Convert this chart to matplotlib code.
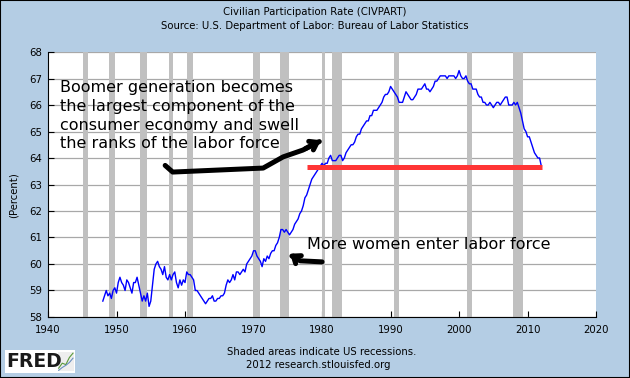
import numpy as np
import matplotlib.pyplot as plt
from matplotlib.patches import Rectangle

# Civilian participation rate (CIVPART), quarterly, 1948Q1 .. 2012Q1
civpart = [
    58.6, 58.8, 59.0, 58.8,   # 1948
    58.9, 58.7, 59.0, 59.1,   # 1949
    58.9, 59.3, 59.5, 59.3,   # 1950
    59.2, 59.0, 59.4, 59.3,   # 1951
    59.1, 58.9, 59.3, 59.3,   # 1952
    59.5, 59.2, 58.9, 58.6,   # 1953
    58.8, 58.6, 58.9, 58.4,   # 1954
    58.6, 59.2, 59.8, 60.0,   # 1955
    60.1, 59.9, 59.8, 59.6,   # 1956
    59.9, 59.5, 59.4, 59.6,   # 1957
    59.4, 59.6, 59.7, 59.3,   # 1958
    59.1, 59.4, 59.2, 59.4,   # 1959
    59.3, 59.7, 59.6, 59.6,   # 1960
    59.5, 59.4, 59.0, 59.0,   # 1961
    58.9, 58.8, 58.7, 58.6,   # 1962
    58.5, 58.6, 58.7, 58.7,   # 1963
    58.8, 58.6, 58.6, 58.7,   # 1964
    58.7, 58.8, 58.8, 58.9,   # 1965
    59.2, 59.4, 59.3, 59.4,   # 1966
    59.6, 59.4, 59.7, 59.7,   # 1967
    59.6, 59.7, 59.8, 59.7,   # 1968
    60.0, 60.1, 60.2, 60.3,   # 1969
    60.5, 60.5, 60.3, 60.2,   # 1970
    60.1, 59.9, 60.2, 60.1,   # 1971
    60.3, 60.2, 60.4, 60.5,   # 1972
    60.5, 60.7, 60.8, 61.0,   # 1973
    61.3, 61.3, 61.2, 61.3,   # 1974
    61.2, 61.1, 61.2, 61.3,   # 1975
    61.5, 61.6, 61.7, 61.9,   # 1976
    62.0, 62.2, 62.5, 62.6,   # 1977
    62.8, 63.0, 63.2, 63.3,   # 1978
    63.4, 63.5, 63.6, 63.7,   # 1979
    63.8, 63.7, 63.8, 63.8,   # 1980
    64.0, 64.1, 63.9, 63.9,   # 1981
    63.9, 64.0, 64.1, 64.1,   # 1982
    63.9, 64.0, 64.2, 64.3,   # 1983
    64.4, 64.5, 64.5, 64.6,   # 1984
    64.8, 64.9, 64.9, 65.1,   # 1985
    65.2, 65.3, 65.4, 65.4,   # 1986
    65.6, 65.6, 65.8, 65.8,   # 1987
    65.8, 65.9, 66.0, 66.1,   # 1988
    66.3, 66.4, 66.4, 66.5,   # 1989
    66.7, 66.6, 66.5, 66.4,   # 1990
    66.3, 66.1, 66.1, 66.1,   # 1991
    66.3, 66.5, 66.4, 66.3,   # 1992
    66.2, 66.2, 66.3, 66.4,   # 1993
    66.6, 66.6, 66.6, 66.7,   # 1994
    66.8, 66.6, 66.6, 66.5,   # 1995
    66.6, 66.7, 66.9, 66.9,   # 1996
    67.0, 67.1, 67.1, 67.1,   # 1997
    67.1, 67.0, 67.1, 67.1,   # 1998
    67.1, 67.1, 67.0, 67.1,   # 1999
    67.3, 67.1, 67.0, 67.0,   # 2000
    67.1, 66.9, 66.8, 66.8,   # 2001
    66.6, 66.6, 66.6, 66.4,   # 2002
    66.3, 66.3, 66.1, 66.1,   # 2003
    66.0, 66.0, 66.1, 66.0,   # 2004
    65.9, 66.0, 66.1, 66.1,   # 2005
    66.0, 66.1, 66.2, 66.3,   # 2006
    66.3, 66.0, 66.0, 66.0,   # 2007
    66.1, 66.0, 66.1, 65.9,   # 2008
    65.7, 65.4, 65.1, 65.0,   # 2009
    64.8, 64.8, 64.6, 64.4,   # 2010
    64.2, 64.1, 64.0, 64.0,   # 2011
    63.7,                     # 2012
]
start_year = 1948

# NBER recessions (decimal years)
rec_start = [1945.1, 1948.9, 1953.5, 1957.6, 1960.3, 1969.9, 1973.9, 1980.0, 1981.5, 1990.5, 2001.2, 2007.9]
rec_end = [1945.8, 1949.8, 1954.4, 1958.3, 1961.1, 1970.9, 1975.2, 1980.5, 1982.9, 1991.2, 2001.9, 2009.4]

# red "today's level" line added by the author
level_now = 63.65
level_from = 1977.8
level_to = 2012.1

yticks = list(range(58, 69))
xticks = list(range(1940, 2021, 10))

# hand drawn arrows (data coords)
arrow1_x = [1957.1, 1958.2, 1971.4, 1974.3, 1977.2, 1979.6]
arrow1_y = [63.72, 63.47, 63.62, 64.04, 64.30, 64.62]
arrow2_x = [1980.0, 1976.8, 1975.6]
arrow2_y = [60.08, 60.12, 60.30]

bg = '#b4cde4'
years = start_year + np.arange(len(civpart)) * 0.25

fig = plt.figure(figsize=(6.3, 3.78), dpi=100, facecolor=bg)
ax = fig.add_axes([0.0762, 0.1614, 0.870, 0.701])
ax.set_facecolor('white')

for s, e in zip(rec_start, rec_end):
    ax.axvspan(s, e, color='#c0c0c0', lw=0, zorder=1)

ax.set_yticks(yticks)
ax.set_xticks(xticks)
ax.yaxis.grid(True, color='#a8a8a8', lw=0.9, zorder=0)
ax.set_axisbelow(True)
ax.plot(years, civpart, color='#0000ff', lw=1.0, zorder=3)
ax.plot([level_from, level_to], [level_now, level_now], color='#ff3535', lw=3.6,
        solid_capstyle='butt', zorder=4)

ax.set_xlim(1940, 2020)
ax.set_ylim(58, 68)
for sp in ['top', 'right']:
    ax.spines[sp].set_visible(False)
ax.tick_params(direction='in', length=4, labelsize=7.3, colors='black')
ax.tick_params(axis='x', pad=5.5)
ax.tick_params(axis='y', pad=4)

# annotations
ax.text(0.022, 0.893, 'Boomer generation becomes\nthe largest component of the\n'
        'consumer economy and swell\nthe ranks of the labor force',
        transform=ax.transAxes, fontsize=11.5, va='top', ha='left', linespacing=1.3, zorder=5)
ax.text(0.473, 0.275, 'More women enter labor force', transform=ax.transAxes,
        fontsize=11.5, va='center', ha='left', zorder=5)

ax.plot(arrow1_x, arrow1_y, color='black', lw=3.6, solid_capstyle='round',
        solid_joinstyle='round', zorder=6)
ax.annotate('', xy=(1980.2, 64.72), xytext=(arrow1_x[-2], arrow1_y[-2]),
            arrowprops=dict(arrowstyle='->,head_length=0.5,head_width=0.35', lw=3.6,
                            color='black'), zorder=6)
ax.plot(arrow2_x, arrow2_y, color='black', lw=3.6, solid_capstyle='round',
        solid_joinstyle='round', zorder=6)
ax.annotate('', xy=(1975.0, 60.45), xytext=(arrow2_x[1], arrow2_y[1]),
            arrowprops=dict(arrowstyle='->,head_length=0.45,head_width=0.35', lw=3.6,
                            color='black'), zorder=6)

# titles and footer
fig.text(0.5, 0.967, 'Civilian Participation Rate (CIVPART)', ha='center', va='center', fontsize=7.3)
fig.text(0.5, 0.930, 'Source: U.S. Department of Labor: Bureau of Labor Statistics',
         ha='center', va='center', fontsize=7.3)
fig.text(0.021, 0.485, '(Percent)', rotation=90, ha='center', va='center', fontsize=7.3)
fig.text(0.51, 0.068, 'Shaded areas indicate US recessions.', ha='center', va='center', fontsize=7.3)
fig.text(0.505, 0.034, '2012 research.stlouisfed.org', ha='center', va='center', fontsize=7.3)

# FRED logo
fig.patches.append(Rectangle((0.008, 0.012), 0.111, 0.062, transform=fig.transFigure,
                             facecolor='white', edgecolor='none', zorder=-1))
fig.text(0.010, 0.043, 'FRED', fontsize=13.5, fontweight='bold', ha='left', va='center',
         color='#1a1a1a', zorder=3)
icon = fig.add_axes([0.092, 0.018, 0.025, 0.05])
icon.set_facecolor('#eeeeee')
icon.plot([0, 1, 2, 3, 4], [0.5, 1.2, 1.0, 2.0, 2.6], color='#5a9a3a', lw=0.8)
icon.plot([0, 1, 2, 3, 4], [0.2, 0.6, 0.9, 1.3, 1.9], color='#6a8fc0', lw=0.8)
icon.set_xticks([])
icon.set_yticks([])
for sp in icon.spines.values():
    sp.set_visible(False)

# outer border
fig.patches.append(Rectangle((0, 0), 1, 1, transform=fig.transFigure, fill=False,
                             edgecolor='black', lw=1.5, zorder=10))

fig.savefig('out.png', dpi=100, facecolor=bg)
